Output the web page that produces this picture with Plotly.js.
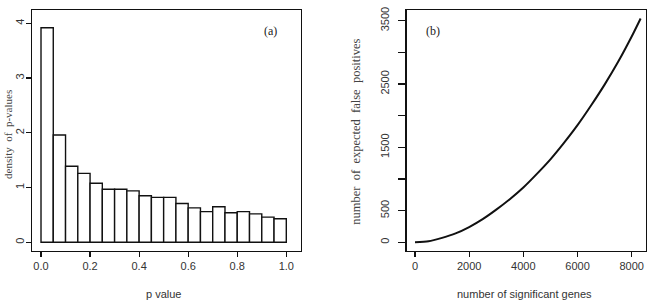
<!DOCTYPE html>
<html>
<head>
<meta charset="utf-8">
<script src="https://cdn.plot.ly/plotly-3.0.1.min.js"></script>
<style>html,body{margin:0;padding:0;background:#fff;}#chart{width:649px;height:303px;}</style>
</head>
<body>
<div id="chart"></div>
<script>
// Panel (a): histogram of p-values (bin centers, density)
const binCenters = [0.025,0.075,0.125,0.175,0.225,0.275,0.325,0.375,0.425,0.475,0.525,0.575,0.625,0.675,0.725,0.775,0.825,0.875,0.925,0.975];
const density = [3.92,1.96,1.39,1.26,1.08,0.97,0.97,0.94,0.85,0.82,0.82,0.71,0.63,0.56,0.65,0.54,0.56,0.52,0.46,0.43];
const xTicksA = [0,0.2,0.4,0.6,0.8,1.0];
const xTickTextA = ["0.0","0.2","0.4","0.6","0.8","1.0"];
const yTicksA = [0,1,2,3,4];
const yTickTextA = ["0","1","2","3","4"];

// Panel (b): expected false positives vs number of significant genes
const sigGenes = [0,500,1000,1500,2000,2500,3000,3500,4000,4500,5000,5500,6000,6500,7000,7500,8000,8330];
const falsePos = [0,15,70,140,240,365,515,680,865,1080,1310,1570,1850,2160,2490,2850,3250,3535];
const xTicksB = [0,2000,4000,6000,8000];
const xTickTextB = ["0","2000","4000","6000","8000"];
const yTicksB = [0,500,1000,1500,2000,2500,3000,3500];
const yTickTextB = ["0","500","","1500","","2500","","3500"];

const W = 649, H = 303;
const px = v => v / W, py = v => 1 - v / H;
const tickFont = {family: "Liberation Sans, Arial, sans-serif", size: 11, color: "#333"};
const serif = "Liberation Serif, Times New Roman, serif";

const axBase = {
  showline: true, linecolor: "#111", linewidth: 1.5, mirror: true,
  ticks: "outside", ticklen: 5, tickwidth: 1.2, tickcolor: "#111",
  showgrid: false, zeroline: false, tickfont: tickFont, tickmode: "array", fixedrange: true
};

const traces = [
  {type: "bar", x: binCenters, y: density, width: 0.05, xaxis: "x", yaxis: "y",
   marker: {color: "#fff", line: {color: "#111", width: 1.4}}, hoverinfo: "skip"},
  {type: "scatter", mode: "lines", x: sigGenes, y: falsePos, xaxis: "x2", yaxis: "y2",
   line: {color: "#111", width: 2, shape: "spline", smoothing: 0.6}, hoverinfo: "skip"}
];

const layout = {
  width: W, height: H, margin: {l: 0, r: 0, t: 0, b: 0},
  paper_bgcolor: "#fff", plot_bgcolor: "#fff", showlegend: false,
  xaxis: Object.assign({}, axBase, {domain: [px(32.3), px(300.7)], range: [-0.0355, 1.0587],
    tickvals: xTicksA, ticktext: xTickTextA, anchor: "y"}),
  yaxis: Object.assign({}, axBase, {domain: [py(250.7), py(10)], range: [-0.153, 4.243],
    tickvals: yTicksA, ticktext: yTickTextA, tickangle: -90, anchor: "x", ticklabelstandoff: -3}),
  xaxis2: Object.assign({}, axBase, {domain: [px(406.7), px(645.5)], range: [-306, 8510],
    tickvals: xTicksB, ticktext: xTickTextB, anchor: "y2"}),
  yaxis2: Object.assign({}, axBase, {domain: [py(250.7), py(10)], range: [-133, 3669],
    tickvals: yTicksB, ticktext: yTickTextB, tickangle: -90, anchor: "x2", ticklen: 7, ticklabelstandoff: 5}),
  annotations: [
    {text: "(a)", xref: "paper", yref: "paper", x: px(270), y: py(30.7), xanchor: "center", yanchor: "middle",
     showarrow: false, font: {family: serif, size: 12, color: "#222"}},
    {text: "(b)", xref: "paper", yref: "paper", x: px(432.5), y: py(30.7), xanchor: "center", yanchor: "middle",
     showarrow: false, font: {family: serif, size: 12, color: "#222"}},
    {text: "density  of  p-values", xref: "paper", yref: "paper", x: px(0), y: py(135), textangle: -90,
     xanchor: "left", yanchor: "middle", showarrow: false, font: {family: serif, size: 11, color: "#444"}},
    {text: "number\u00a0\u00a0of\u00a0\u00a0expected\u00a0\u00a0false\u00a0\u00a0positives", xref: "paper", yref: "paper",
     x: px(356), y: py(131.7), textangle: -90, xanchor: "center", yanchor: "middle", showarrow: false,
     font: {family: serif, size: 12.5, color: "#444"}},
    {text: "p value", xref: "paper", yref: "paper", x: px(163), y: py(302), xanchor: "center", yanchor: "bottom",
     showarrow: false, font: {family: tickFont.family, size: 11, color: "#333"}},
    {text: "number of significant genes", xref: "paper", yref: "paper", x: px(524), y: py(302), xanchor: "center",
     yanchor: "bottom", showarrow: false, font: {family: tickFont.family, size: 11, color: "#333"}}
  ]
};

Plotly.newPlot("chart", traces, layout, {staticPlot: true, displayModeBar: false});
</script>
</body>
</html>
